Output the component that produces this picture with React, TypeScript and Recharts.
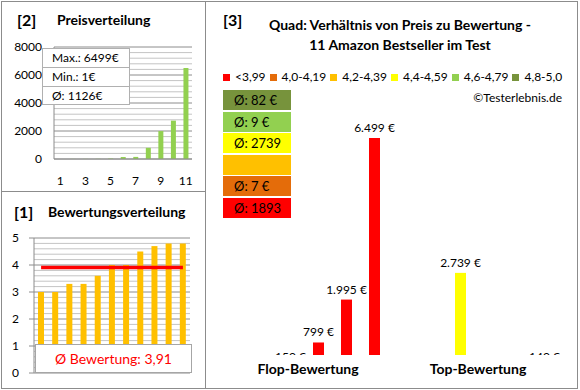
import React from 'react';
import {
  BarChart,
  ComposedChart,
  Bar,
  Line,
  XAxis,
  YAxis,
  CartesianGrid,
  Cell,
  LabelList,
} from 'recharts';

const FONT = 'Lato, "Open Sans", sans-serif';

// [2] Preisverteilung
const PRICE_RANKS = ['1', '2', '3', '4', '5', '6', '7', '8', '9', '10', '11'];
const PRICES = [1, 7, 9, 13, 34, 140, 150, 799, 1995, 2739, 6499];
const PRICE_TICKS = [0, 2000, 4000, 6000, 8000];

// [1] Bewertungsverteilung
const RATINGS = [3.0, 3.0, 3.3, 3.3, 3.6, 4.0, 4.0, 4.5, 4.7, 4.8, 4.8];
const RATING_TICKS = [0, 1, 2, 3, 4, 5];

// [3] Preis zu Bewertung
const BUCKETS = ['<3,99', '4,0-4,19', '4,2-4,39', '4,4-4,59', '4,6-4,79', '4,8-5,0'];
const BUCKET_COLORS = ['#FF0000', '#E46C0A', '#FFC000', '#FFFF00', '#92D050', '#77933C'];
const BUCKET_AVGS = ['Ø: 1893', 'Ø: 7 €', '', 'Ø: 2739', 'Ø: 9 €', 'Ø: 82 €'];

const GROUPS = ['Flop-Bewertung', 'Top-Bewertung'];
const FLOP_PRICES = [null, 150, 799, 1995, 6499];
const FLOP_BUCKETS = [0, 0, 0, 0, 0];
const TOP_PRICES = [null, 2739, null, null, 140];
const TOP_BUCKETS = [1, 3, 4, 5, 5];
const QUAD_DOMAIN = [450, 7000];

const priceData = PRICE_RANKS.map((rank, i) => ({ rank, price: PRICES[i] }));
const maxPrice = Math.max(...PRICES);
const minPrice = Math.min(...PRICES);
const avgPrice = Math.round(PRICES.reduce((a, b) => a + b, 0) / PRICES.length);

const avgRating = RATINGS.reduce((a, b) => a + b, 0) / RATINGS.length;
const ratingData = RATINGS.map((rating, i) => ({ rank: PRICE_RANKS[i], rating, avg: avgRating }));

const quadData = GROUPS.map((group, gi) => {
  const prices = gi === 0 ? FLOP_PRICES : TOP_PRICES;
  const row: Record<string, any> = { group };
  prices.forEach((p, i) => {
    row['s' + i] = p;
  });
  return row;
});

// light minor grid lines between the labelled ticks
const minorTicks = (max: number, step: number, major: number) =>
  Array.from({ length: Math.round(max / step) + 1 }, (_, i) => +(i * step).toFixed(2)).filter(
    (v) => Math.abs(v / major - Math.round(v / major)) > 1e-6
  );

// grid positions for a linear 0..max axis, taken from the plot offset
const gridAt = (values: number[], max: number) => (args: any) => {
  const off = args?.offset;
  if (!off) return [];
  return values.map((v) => off.top + off.height * (1 - v / max));
};

const euro = (v: number) => String(v).replace(/\B(?=(\d{3})+(?!\d))/g, '.') + ' €';

function PriceLabel(props: any) {
  const { x, y, width, height, value, index } = props;
  if (value == null) return null;
  const cx = Number(x) + Number(width) / 2;
  const y1 = Number(y);
  const y2 = Number(y) + Number(height);
  const top = Math.min(y1, y2);
  if (Number(value) < QUAD_DOMAIN[0]) {
    // below the axis minimum: label sits under the baseline and gets cut off
    const id = `clip-${Math.round(cx)}-${index}`;
    return (
      <g>
        <defs>
          <clipPath id={id}>
            <rect x={cx - 40} y={top - 300} width={80} height={300} />
          </clipPath>
        </defs>
        <text x={cx} y={top + 6} textAnchor="middle" fontSize={12} fill="#000" clipPath={`url(#${id})`}>
          {euro(Number(value))}
        </text>
      </g>
    );
  }
  return (
    <text x={cx} y={top - 6} textAnchor="middle" fontSize={12} fill="#000">
      {euro(Number(value))}
    </text>
  );
}

const panel = (left: number, top: number, width: number, height: number): React.CSSProperties => ({
  position: 'absolute',
  left,
  top,
  width,
  height,
  border: '1px solid #8c8c8c',
  boxSizing: 'border-box',
});

const abs = (left: number, top: number, extra: React.CSSProperties = {}): React.CSSProperties => ({
  position: 'absolute',
  left,
  top,
  ...extra,
});

export default function App() {
  return (
    <div
      style={{
        position: 'absolute',
        left: 0,
        top: 0,
        width: 580,
        height: 390,
        background: '#fff',
        fontFamily: FONT,
        color: '#000',
        overflow: 'hidden',
      }}
    >
      <div style={panel(1, 1, 205, 191)} />
      <div style={panel(1, 191, 205, 198)} />
      <div style={panel(205, 1, 373, 388)} />

      {/* [2] Preisverteilung */}
      <div style={abs(17, 10, { fontSize: 16, fontWeight: 700 })}>[2]</div>
      <div style={abs(57, 11, { fontSize: 14, fontWeight: 700 })}>Preisverteilung</div>
      <div style={abs(0, 30)}>
        <BarChart
          width={205}
          height={165}
          data={priceData}
          margin={{ top: 17, right: 13, left: 0, bottom: 0 }}
          barCategoryGap={0}
        >
          <CartesianGrid
            vertical={false}
            stroke="#c4c4c4"
            horizontalCoordinatesGenerator={gridAt(minorTicks(8000, 400, 2000), 8000)}
          />
          <CartesianGrid
            vertical={false}
            stroke="#8c8c8c"
            horizontalCoordinatesGenerator={gridAt(PRICE_TICKS, 8000)}
          />
          <XAxis
            dataKey="rank"
            interval={1}
            height={36}
            tickSize={0}
            tickMargin={17}
            axisLine={{ stroke: '#8c8c8c' }}
            tick={{ fontSize: 12, fill: '#000' }}
          />
          <YAxis
            width={54}
            domain={[0, 8000]}
            ticks={PRICE_TICKS}
            tickSize={6}
            tickMargin={6}
            tickLine={false}
            axisLine={{ stroke: '#8c8c8c' }}
            tick={{ fontSize: 12, fill: '#000' }}
          />
          <Bar dataKey="price" fill="#92D050" barSize={5} isAnimationActive={false} />
        </BarChart>
      </div>
      <div
        style={abs(42, 48, {
          width: 88,
          background: '#fff',
          border: '1px solid #b0b0b0',
          boxSizing: 'border-box',
          fontSize: 12,
        })}
      >
        {[`Max.: ${maxPrice}€`, `Min.: ${minPrice}€`, `Ø: ${avgPrice}€`].map((t, i) => (
          <div
            key={t}
            style={{
              height: i === 2 ? 17 : 18,
              lineHeight: '18px',
              paddingLeft: 9,
              borderTop: i === 0 ? 'none' : '1px solid #b0b0b0',
            }}
          >
            {t}
          </div>
        ))}
      </div>

      {/* [1] Bewertungsverteilung */}
      <div style={abs(14, 202, { fontSize: 16, fontWeight: 700 })}>[1]</div>
      <div style={abs(48, 203, { fontSize: 14, fontWeight: 700 })}>Bewertungsverteilung</div>
      <div style={abs(0, 230)}>
        <ComposedChart
          width={205}
          height={155}
          data={ratingData}
          margin={{ top: 8, right: 15, left: 0, bottom: 12 }}
          barCategoryGap={0}
        >
          <CartesianGrid
            vertical={false}
            stroke="#c4c4c4"
            horizontalCoordinatesGenerator={gridAt(minorTicks(5, 0.2, 1), 5)}
          />
          <CartesianGrid
            vertical={false}
            stroke="#8c8c8c"
            horizontalCoordinatesGenerator={gridAt(RATING_TICKS, 5)}
          />
          <XAxis dataKey="rank" hide />
          <YAxis
            width={34}
            domain={[0, 5]}
            ticks={RATING_TICKS}
            tickSize={5}
            tickMargin={10}
            tickLine={{ stroke: '#8c8c8c' }}
            axisLine={{ stroke: '#8c8c8c' }}
            tick={{ fontSize: 12, fill: '#000' }}
          />
          <Bar dataKey="rating" fill="#FFC000" barSize={6} isAnimationActive={false} />
          <Line dataKey="avg" stroke="#FF0000" strokeWidth={3.5} dot={false} isAnimationActive={false} />
        </ComposedChart>
      </div>
      <div
        style={abs(35, 344, {
          width: 157,
          height: 29,
          background: '#fff',
          border: '1px solid #a6a6a6',
          boxSizing: 'border-box',
          color: '#FF0000',
          fontSize: 14,
          lineHeight: '27px',
          textAlign: 'center',
        })}
      >
        Ø Bewertung: {avgRating.toFixed(2).replace('.', ',')}
      </div>

      {/* [3] Verhältnis */}
      <div style={abs(223, 10, { fontSize: 16, fontWeight: 700 })}>[3]</div>
      <div
        style={abs(220, 15, {
          width: 360,
          textAlign: 'center',
          fontSize: 14,
          fontWeight: 700,
          lineHeight: '20px',
        })}
      >
        <div>Quad: Verhältnis von Preis zu Bewertung -</div>
        <div>11 Amazon Bestseller im Test</div>
      </div>
      <div style={abs(223, 70, { display: 'flex', gap: 4, fontSize: 12, lineHeight: '14px' })}>
        {BUCKETS.map((b, i) => (
          <div key={b} style={{ display: 'flex', alignItems: 'center' }}>
            <span
              style={{ display: 'inline-block', width: 7, height: 7, background: BUCKET_COLORS[i], marginRight: 5 }}
            />
            {b}
          </div>
        ))}
      </div>
      <div style={abs(0, 90, { width: 562, textAlign: 'right', fontSize: 12 })}>©Testerlebnis.de</div>
      <div style={abs(223, 90, { display: 'flex', flexDirection: 'column', gap: 1.6 })}>
        {BUCKET_COLORS.map((c, i) => ({ c, t: BUCKET_AVGS[i] }))
          .reverse()
          .map(({ c, t }, i) => (
            <div
              key={i}
              style={{
                width: 68,
                height: 20,
                background: c,
                fontSize: 13,
                lineHeight: '20px',
                paddingLeft: 11,
                boxSizing: 'border-box',
              }}
            >
              {t}
            </div>
          ))}
      </div>
      <div style={abs(205, 100)}>
        <BarChart
          width={373}
          height={285}
          data={quadData}
          margin={{ top: 20, right: 5, left: 28, bottom: 0 }}
          barGap={17}
        >
          <XAxis
            dataKey="group"
            height={30}
            tickSize={0}
            tickMargin={9}
            axisLine={false}
            tickLine={false}
            tick={{ fontSize: 14, fontWeight: 700, fill: '#000', dx: -10 }}
          />
          <YAxis hide domain={QUAD_DOMAIN} allowDataOverflow />
          {FLOP_PRICES.map((_, i) => (
            <Bar key={i} dataKey={'s' + i} barSize={11} isAnimationActive={false}>
              {GROUPS.map((g, gi) => (
                <Cell key={g} fill={BUCKET_COLORS[(gi === 0 ? FLOP_BUCKETS : TOP_BUCKETS)[i]]} />
              ))}
              <LabelList dataKey={'s' + i} content={PriceLabel} />
            </Bar>
          ))}
        </BarChart>
      </div>
    </div>
  );
}
